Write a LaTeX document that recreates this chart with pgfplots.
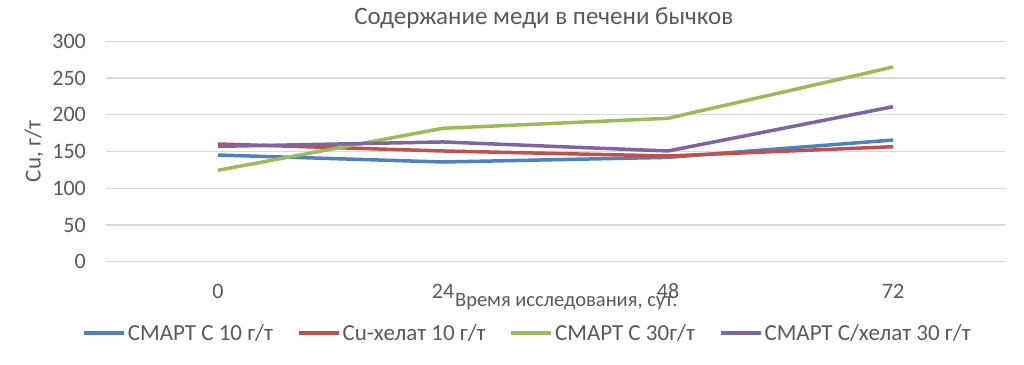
\documentclass[border=0pt]{standalone}
\usepackage{pgfplots}
\pgfplotsset{compat=1.18}
\usepackage{fontspec}
\setmainfont{Carlito}
\definecolor{txt}{HTML}{595959}
\definecolor{gridc}{HTML}{D9D9D9}
\definecolor{s1}{HTML}{4F81BD}
\definecolor{s2}{HTML}{C0504D}
\definecolor{s3}{HTML}{9BBB59}
\definecolor{s4}{HTML}{8064A2}
\begin{document}
\begin{tikzpicture}
\useasboundingbox (0,0) rectangle (1024pt,364pt);
\begin{axis}[
  at={(105.5pt,102.3pt)}, anchor=south west,
  scale only axis, width=900pt, height=220.4pt,
  xmin=-0.5, xmax=3.5, ymin=0, ymax=300,
  xtick={0,1,2,3}, xticklabels={0,24,48,72},
  ytick={0,50,100,150,200,250,300},
  axis line style={draw=none},
  major tick length=0pt,
  xmajorgrids=false, ymajorgrids=true,
  grid style={draw=gridc, line width=1.3pt},
  /pgf/number format/assume math mode=true,
  tick label style={color=txt, font=\fontsize{22}{26}\selectfont},
  xticklabel style={anchor=base, yshift=-36.5pt, inner sep=0pt},
  yticklabel style={anchor=east, inner sep=0pt, xshift=-19.5pt},
  title={Содержание меди в печени бычков},
  title style={at={(axis description cs:0.487,1)}, anchor=base, yshift=11pt, inner sep=0pt, color=txt, font=\fontsize{25}{29}\selectfont},
  xlabel={Время исследования, сут.},
  xlabel style={at={(axis description cs:0.512,0)}, anchor=base, yshift=-44.5pt, inner sep=0pt, color=txt, font=\fontsize{20.5}{24}\selectfont},
  ylabel={Cu, г/т},
  ylabel style={at={(axis description cs:-0.0794,0.5)}, anchor=center, color=txt, font=\fontsize{23}{27}\selectfont},
  legend columns=4,
  legend style={at={(axis description cs:0.469,0)}, anchor=center, yshift=-71.3pt, draw=none, fill=none, text=txt, font=\fontsize{23}{27}\selectfont, /tikz/every even column/.append style={column sep=22pt}},
  legend image code/.code={\draw[#1] (0pt,0pt) -- (40pt,0pt);},
  every axis plot/.append style={line width=3.5pt, no markers},
]
\addplot[s1] coordinates {(0,145.2) (1,135.7) (2,142) (3,165.6)};
\addlegendentry{СМАРТ С 10 г/т}
\addplot[s2] coordinates {(0,160.2) (1,150.7) (2,143.9) (3,156.5)};
\addlegendentry{Cu-хелат 10 г/т}
\addplot[s3] coordinates {(0,124.4) (1,181.6) (2,195.2) (3,265)};
\addlegendentry{СМАРТ С 30г/т}
\addplot[s4] coordinates {(0,157) (1,163) (2,150.7) (3,211)};
\addlegendentry{СМАРТ С/хелат 30 г/т}
\end{axis}
\end{tikzpicture}
\end{document}
